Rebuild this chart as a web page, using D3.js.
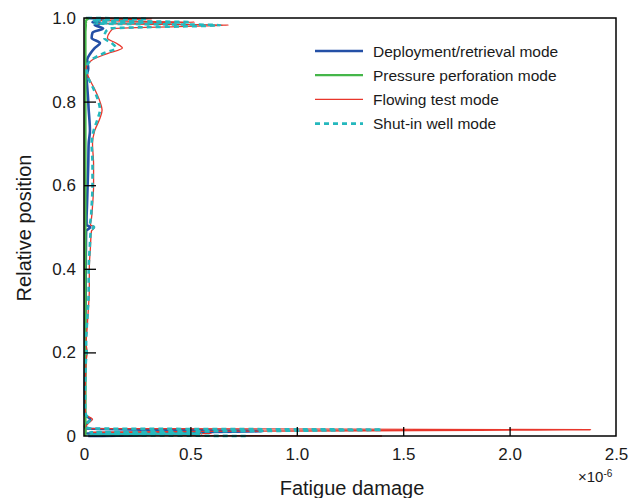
<!doctype html>
<html>
<head>
    <meta charset="utf-8">
    <title>Fatigue damage</title>
    <style>
        body { margin: 0; background: #fff; }
        text { font-family: "Liberation Sans", Arial, sans-serif; fill: #1a1a1a; }
    </style>
</head>
<body>
<script src="https://d3js.org/d3.v7.min.js"></script>
<script>
// relative position along the string (shared by every series)
var relPos = [0.000, 0.003, 0.006, 0.009, 0.012, 0.015, 0.018, 0.022, 0.03, 0.04,
    0.05, 0.07, 0.1, 0.15, 0.18, 0.2, 0.22, 0.26, 0.3, 0.35,
    0.4, 0.45, 0.49, 0.5, 0.505, 0.52, 0.55, 0.6, 0.65, 0.7,
    0.73, 0.76, 0.78, 0.8, 0.83, 0.86, 0.88, 0.9, 0.915, 0.928,
    0.94, 0.952, 0.965, 0.975, 0.983, 0.987, 0.990, 0.994, 0.998, 1.0];

// fatigue damage, units of 1e-6
var deployment = [0.02, 0.30, 0.01, 0.50, 0.84, 0.30, 0.01, 0.005, 0.01, 0.03,
    0.005, 0.004, 0.004, 0.005, 0.006, 0.008, 0.006, 0.006, 0.007, 0.008,
    0.008, 0.009, 0.01, 0.03, 0.012, 0.012, 0.014, 0.017, 0.02, 0.022,
    0.028, 0.025, 0.022, 0.02, 0.016, 0.012, 0.02, 0.015, 0.03, 0.05,
    0.075, 0.036, 0.04, 0.09, 0.05, 0.08, 0.04, 0.07, 0.09, 0.01];
var perforation = [0.007, 0.007, 0.007, 0.008, 0.008, 0.008, 0.007, 0.007, 0.007, 0.007,
    0.007, 0.007, 0.007, 0.007, 0.007, 0.007, 0.007, 0.007, 0.007, 0.007,
    0.007, 0.007, 0.007, 0.007, 0.007, 0.007, 0.007, 0.007, 0.007, 0.007,
    0.007, 0.007, 0.007, 0.007, 0.007, 0.007, 0.007, 0.007, 0.007, 0.007,
    0.007, 0.007, 0.007, 0.008, 0.009, 0.008, 0.01, 0.008, 0.02, 0.007];
var flowing = [1.40, 0.02, 0.60, 0.03, 0.90, 2.38, 0.03, 0.01, 0.02, 0.04,
    0.01, 0.005, 0.005, 0.008, 0.01, 0.015, 0.01, 0.015, 0.02, 0.025,
    0.025, 0.03, 0.035, 0.05, 0.03, 0.035, 0.04, 0.045, 0.045, 0.04,
    0.05, 0.075, 0.085, 0.075, 0.05, 0.02, 0.01, 0.04, 0.11, 0.18,
    0.15, 0.11, 0.12, 0.14, 0.68, 0.06, 0.52, 0.05, 0.32, 0.02];
var shutIn = [0.76, 0.02, 0.55, 0.03, 0.84, 1.40, 0.03, 0.01, 0.015, 0.03,
    0.01, 0.005, 0.005, 0.007, 0.009, 0.013, 0.01, 0.013, 0.018, 0.022,
    0.022, 0.027, 0.032, 0.047, 0.028, 0.032, 0.036, 0.04, 0.04, 0.036,
    0.045, 0.065, 0.075, 0.068, 0.045, 0.018, 0.012, 0.035, 0.09, 0.15,
    0.13, 0.095, 0.1, 0.12, 0.64, 0.05, 0.50, 0.04, 0.30, 0.02];

var seriesNames = ["Deployment/retrieval mode", "Pressure perforation mode", "Flowing test mode", "Shut-in well mode"];
var xTicks = [0, 0.5, 1.0, 1.5, 2.0, 2.5];
var xTickLabels = ["0", "0.5", "1.0", "1.5", "2.0", "2.5"];
var yTicks = [0, 0.2, 0.4, 0.6, 0.8, 1.0];
var yTickLabels = ["0", "0.2", "0.4", "0.6", "0.8", "1.0"];

var w = 644, h = 498;
var margin = {top: 18, right: 28, bottom: 62, left: 84};
var iw = w - margin.left - margin.right;
var ih = h - margin.top - margin.bottom;

var svg = d3.select("body").append("svg")
    .attr("width", w)
    .attr("height", h);

var g = svg.append("g")
    .attr("transform", "translate(" + margin.left + "," + margin.top + ")");

var x = d3.scaleLinear().domain([0, 2.5]).range([0, iw]);
var y = d3.scaleLinear().domain([0, 1]).range([ih, 0]);

// styles per series
var styles = [
    {values: deployment, color: "#2450a6", width: 2.6, dash: null},
    {values: perforation, color: "#45b649", width: 2.2, dash: null},
    {values: flowing, color: "#e8362b", width: 1.3, dash: null},
    {values: shutIn, color: "#25b8bd", width: 2.6, dash: "5,4"}
];

var line = d3.line()
    .x(function (d) { return x(d[1]); })
    .y(function (d) { return y(d[0]); })
    .curve(d3.curveMonotoneY);

styles.forEach(function (s) {
    var pts = relPos.map(function (p, i) { return [p, s.values[i]]; });
    g.append("path")
        .datum(pts)
        .attr("d", line)
        .attr("fill", "none")
        .attr("stroke", s.color)
        .attr("stroke-width", s.width)
        .attr("stroke-dasharray", s.dash);
});

// frame
g.append("rect")
    .attr("width", iw)
    .attr("height", ih)
    .attr("fill", "none")
    .attr("stroke", "#000")
    .attr("stroke-width", 1.5);

// axes with inward ticks
var xAxis = g.append("g")
    .attr("transform", "translate(0," + ih + ")")
    .call(d3.axisBottom(x).tickValues(xTicks)
        .tickFormat(function (d, i) { return xTickLabels[i]; })
        .tickSize(-9).tickPadding(12));
var yAxis = g.append("g")
    .call(d3.axisLeft(y).tickValues(yTicks)
        .tickFormat(function (d, i) { return yTickLabels[i]; })
        .tickSize(-12).tickPadding(8));

[xAxis, yAxis].forEach(function (a) {
    a.select(".domain").remove();
    a.selectAll("line").attr("stroke", "#000").attr("stroke-width", 1.3);
    a.selectAll("text").style("font-size", "17px")
        .style("font-family", "'Liberation Sans', Arial, sans-serif").attr("fill", "#1a1a1a");
});
// hide the tick marks on the frame corners
xAxis.selectAll(".tick").filter(function (d) { return d === 0 || d === 2.5; }).select("line").remove();
yAxis.selectAll(".tick").filter(function (d) { return d === 0 || d === 1; }).select("line").remove();

// exponent note
var expo = svg.append("text")
    .attr("x", 578)
    .attr("y", 482)
    .style("font-size", "15px");
expo.append("tspan").text("×10");
expo.append("tspan").attr("dy", -5).style("font-size", "10px").text("-6");

// axis titles
svg.append("text")
    .attr("x", margin.left + iw / 2 + 2)
    .attr("y", 495)
    .attr("text-anchor", "middle")
    .style("font-size", "20px")
    .text("Fatigue damage");

svg.append("text")
    .attr("transform", "translate(31,228) rotate(-90)")
    .attr("text-anchor", "middle")
    .style("font-size", "20px")
    .text("Relative position");

// legend
var legend = svg.append("g").attr("transform", "translate(315,51)");
styles.forEach(function (s, i) {
    var row = legend.append("g").attr("transform", "translate(0," + (i * 24.2) + ")");
    row.append("line")
        .attr("x1", 0).attr("x2", 48)
        .attr("stroke", s.color)
        .attr("stroke-width", s.width)
        .attr("stroke-dasharray", s.dash);
    row.append("text")
        .attr("x", 58)
        .attr("y", 5.5)
        .style("font-size", "15.5px")
        .text(seriesNames[i]);
});
</script>
</body>
</html>
